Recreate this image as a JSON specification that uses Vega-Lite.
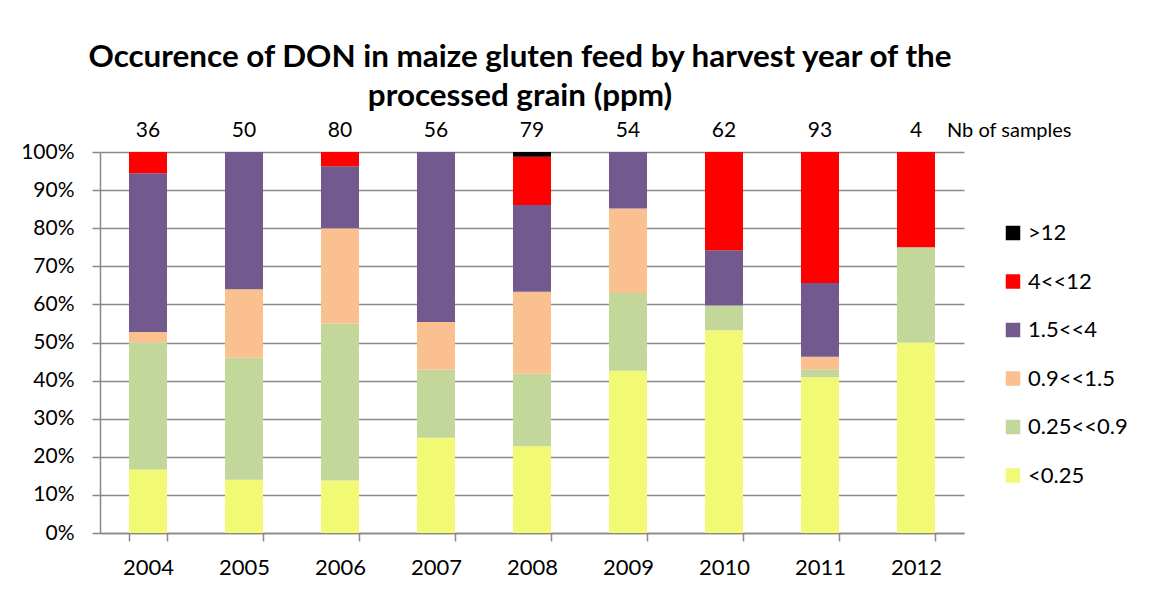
{
  "$schema": "https://vega.github.io/schema/vega-lite/v6.json",
  "width": 864,
  "height": 381,
  "autosize": {"type": "none"},
  "padding": {"left": 100, "top": 152, "right": 188, "bottom": 56},
  "background": "white",
  "config": {
    "font": "Lato",
    "view": {"stroke": null},
    "axis": {"labelColor": "black", "labelFont": "Lato", "domainColor": "#898989", "tickColor": "#898989", "gridColor": "#898989", "domainWidth": 1.5, "tickWidth": 1.5, "gridWidth": 1.5, "labelOverlap": false}
  },
  "title": {
    "text": ["Occurence of DON in maize gluten feed by harvest year of the", "processed grain (ppm)"],
    "fontSize": 31.4,
    "fontWeight": "bold",
    "font": "Lato",
    "color": "black",
    "anchor": "middle",
    "frame": "group",
    "offset": 8,
    "lineHeight": 39,
    "dx": -12
  },
  "layer": [
    {
      "data": {"values": [
        {"year": "2004", "level": "<0.25", "rank": 1, "pct": 16.67},
        {"year": "2004", "level": "0.25<<0.9", "rank": 2, "pct": 33.33},
        {"year": "2004", "level": "0.9<<1.5", "rank": 3, "pct": 2.78},
        {"year": "2004", "level": "1.5<<4", "rank": 4, "pct": 41.67},
        {"year": "2004", "level": "4<<12", "rank": 5, "pct": 5.56},
        {"year": "2005", "level": "<0.25", "rank": 1, "pct": 14},
        {"year": "2005", "level": "0.25<<0.9", "rank": 2, "pct": 32},
        {"year": "2005", "level": "0.9<<1.5", "rank": 3, "pct": 18},
        {"year": "2005", "level": "1.5<<4", "rank": 4, "pct": 36},
        {"year": "2006", "level": "<0.25", "rank": 1, "pct": 13.75},
        {"year": "2006", "level": "0.25<<0.9", "rank": 2, "pct": 41.25},
        {"year": "2006", "level": "0.9<<1.5", "rank": 3, "pct": 25},
        {"year": "2006", "level": "1.5<<4", "rank": 4, "pct": 16.25},
        {"year": "2006", "level": "4<<12", "rank": 5, "pct": 3.75},
        {"year": "2007", "level": "<0.25", "rank": 1, "pct": 25},
        {"year": "2007", "level": "0.25<<0.9", "rank": 2, "pct": 17.86},
        {"year": "2007", "level": "0.9<<1.5", "rank": 3, "pct": 12.5},
        {"year": "2007", "level": "1.5<<4", "rank": 4, "pct": 44.64},
        {"year": "2008", "level": "<0.25", "rank": 1, "pct": 22.78},
        {"year": "2008", "level": "0.25<<0.9", "rank": 2, "pct": 18.99},
        {"year": "2008", "level": "0.9<<1.5", "rank": 3, "pct": 21.52},
        {"year": "2008", "level": "1.5<<4", "rank": 4, "pct": 22.78},
        {"year": "2008", "level": "4<<12", "rank": 5, "pct": 12.66},
        {"year": "2008", "level": ">12", "rank": 6, "pct": 1.27},
        {"year": "2009", "level": "<0.25", "rank": 1, "pct": 42.59},
        {"year": "2009", "level": "0.25<<0.9", "rank": 2, "pct": 20.37},
        {"year": "2009", "level": "0.9<<1.5", "rank": 3, "pct": 22.22},
        {"year": "2009", "level": "1.5<<4", "rank": 4, "pct": 14.82},
        {"year": "2010", "level": "<0.25", "rank": 1, "pct": 53.23},
        {"year": "2010", "level": "0.25<<0.9", "rank": 2, "pct": 6.45},
        {"year": "2010", "level": "1.5<<4", "rank": 4, "pct": 14.52},
        {"year": "2010", "level": "4<<12", "rank": 5, "pct": 25.8},
        {"year": "2011", "level": "<0.25", "rank": 1, "pct": 40.86},
        {"year": "2011", "level": "0.25<<0.9", "rank": 2, "pct": 2.15},
        {"year": "2011", "level": "0.9<<1.5", "rank": 3, "pct": 3.23},
        {"year": "2011", "level": "1.5<<4", "rank": 4, "pct": 19.35},
        {"year": "2011", "level": "4<<12", "rank": 5, "pct": 34.41},
        {"year": "2012", "level": "<0.25", "rank": 1, "pct": 50},
        {"year": "2012", "level": "0.25<<0.9", "rank": 2, "pct": 25},
        {"year": "2012", "level": "4<<12", "rank": 5, "pct": 25}
      ]},
      "mark": {"type": "bar"},
      "encoding": {
        "x": {
          "field": "year", "type": "nominal",
          "scale": {"paddingInner": 0.604, "paddingOuter": 0.302},
          "axis": {"title": null, "labelAngle": 0, "labelFontSize": 22, "tickBand": "extent", "tickSize": 8, "labelPadding": 16, "grid": false}
        },
        "y": {
          "field": "pct", "type": "quantitative", "stack": "zero",
          "scale": {"domain": [0, 100]},
          "axis": {"title": null, "values": [0, 10, 20, 30, 40, 50, 60, 70, 80, 90, 100], "labelExpr": "datum.value + '%'", "labelFontSize": 21, "grid": true, "tickSize": 8, "labelPadding": 18}
        },
        "color": {
          "field": "level", "type": "nominal",
          "scale": {"domain": [">12", "4<<12", "1.5<<4", "0.9<<1.5", "0.25<<0.9", "<0.25"], "range": ["#000000", "#FF0000", "#72598E", "#FAC090", "#C4D79B", "#F1F975"]},
          "legend": {"title": null, "orient": "none", "legendX": 902, "legendY": 70, "symbolType": "square", "symbolSize": 210, "symbolStrokeWidth": 0, "labelFontSize": 22, "labelColor": "black", "labelFont": "Lato", "rowPadding": 26.5, "labelOffset": 4}
        },
        "order": {"field": "rank", "type": "quantitative"}
      }
    },
    {
      "data": {"values": [
        {"year": "2004", "n": 36}, {"year": "2005", "n": 50}, {"year": "2006", "n": 80},
        {"year": "2007", "n": 56}, {"year": "2008", "n": 79}, {"year": "2009", "n": 54},
        {"year": "2010", "n": 62}, {"year": "2011", "n": 93}, {"year": "2012", "n": 4}
      ]},
      "mark": {"type": "text", "fontSize": 21, "dy": -15, "baseline": "alphabetic", "color": "black", "font": "Lato"},
      "encoding": {
        "x": {"field": "year", "type": "nominal", "axis": {"title": null, "labelAngle": 0, "labelFontSize": 22, "tickBand": "extent", "tickSize": 8, "labelPadding": 16, "grid": false}},
        "y": {"datum": 100, "type": "quantitative", "axis": {"title": null, "values": [0, 10, 20, 30, 40, 50, 60, 70, 80, 90, 100], "labelExpr": "datum.value + '%'", "labelFontSize": 21, "grid": true, "tickSize": 8, "labelPadding": 18}},
        "text": {"field": "n"}
      }
    },
    {
      "data": {"values": [{"year": "2012", "label": "Nb of samples"}]},
      "mark": {"type": "text", "fontSize": 20, "dy": -15, "dx": 31, "align": "left", "baseline": "alphabetic", "color": "black", "font": "Lato"},
      "encoding": {
        "x": {"field": "year", "type": "nominal", "axis": {"title": null, "labelAngle": 0, "labelFontSize": 22, "tickBand": "extent", "tickSize": 8, "labelPadding": 16, "grid": false}},
        "y": {"datum": 100, "type": "quantitative", "axis": {"title": null, "values": [0, 10, 20, 30, 40, 50, 60, 70, 80, 90, 100], "labelExpr": "datum.value + '%'", "labelFontSize": 21, "grid": true, "tickSize": 8, "labelPadding": 18}},
        "text": {"field": "label"}
      }
    }
  ]
}
